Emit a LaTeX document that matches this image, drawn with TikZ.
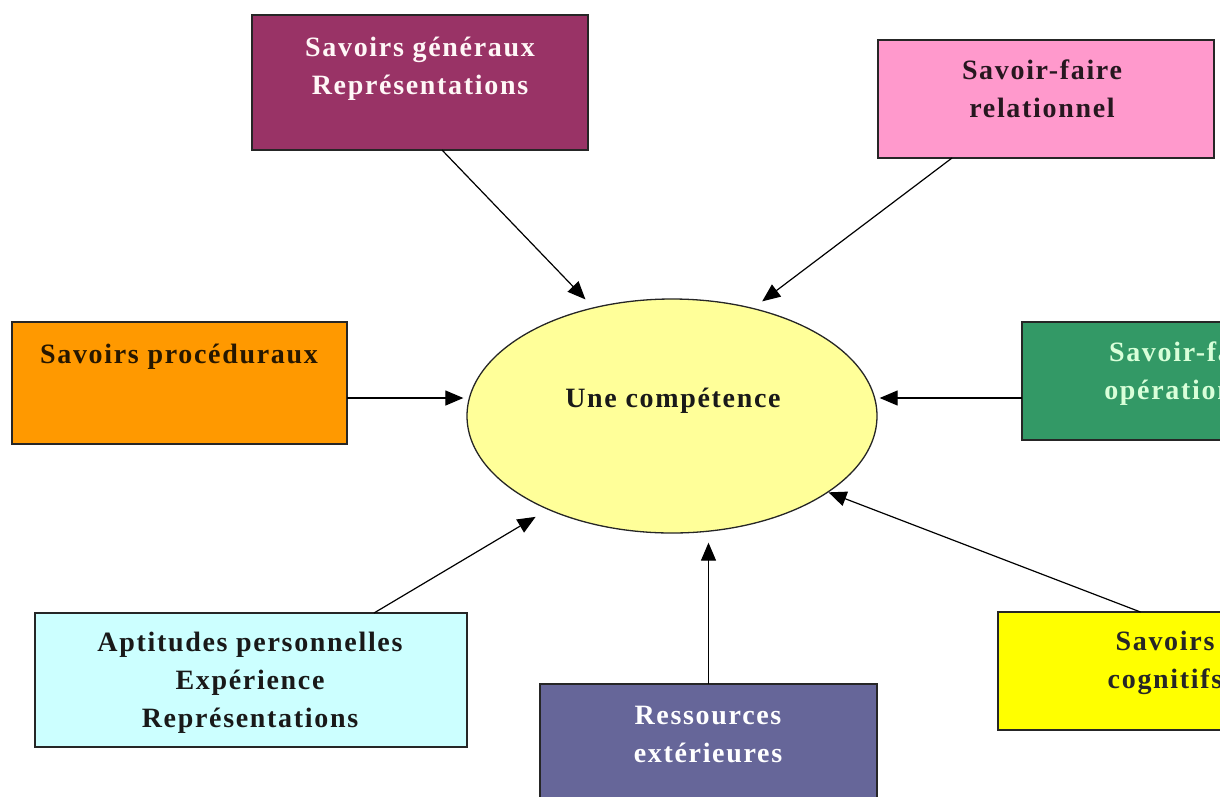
\documentclass[tikz,border=0pt]{standalone}
\usepackage{fontspec}
\setmainfont{Liberation Serif}[LetterSpace=6]
\usetikzlibrary{shapes.geometric,arrows.meta}
\usepackage{xcolor}
\definecolor{genfill}{HTML}{993366}
\definecolor{relfill}{HTML}{FF99CC}
\definecolor{procfill}{HTML}{FF9900}
\definecolor{opfill}{HTML}{339966}
\definecolor{aptfill}{HTML}{CCFFFF}
\definecolor{resfill}{HTML}{666699}
\definecolor{cogfill}{HTML}{FFFF00}
\definecolor{compfill}{HTML}{FFFF99}

\begin{document}
\begin{tikzpicture}
    \tikzset{
        box/.style={rectangle,draw=black!85,line width=1.3pt,inner sep=0pt,outer sep=0pt},
        lbl/.style={anchor=base,align=center,inner sep=0pt,
            font=\fontsize{28}{38}\selectfont\bfseries},
        arr/.style={-{Triangle[length=18pt,width=15pt]},line width=1.2pt},
        x={(1pt,0pt)},
        y={(0pt,-1pt)}
    }
    \useasboundingbox (0,0) rectangle (1220,796);
    \clip (0,0) rectangle (1220,796);
    % centre
    \node[ellipse,draw=black!85,line width=1.3pt,fill=compfill,inner sep=0pt,
        minimum width=410pt,minimum height=234pt] (comp) at (672,416) {};
    \node[lbl,text=black!90] (comp-t) at (673,407) {Une compétence};
    % boxes
    \node[box,fill=genfill,minimum width=336pt,minimum height=135pt] (gen) at (420,82.5) {};
    \node[box,fill=relfill,minimum width=336pt,minimum height=118pt] (rel) at (1046,99) {};
    \node[box,fill=procfill,minimum width=335pt,minimum height=122pt] (proc) at (179.5,383) {};
    \node[box,fill=opfill,minimum width=335pt,minimum height=118pt] (op) at (1189.5,381) {};
    \node[box,fill=aptfill,minimum width=432pt,minimum height=134pt] (apt) at (251,680) {};
    \node[box,fill=resfill,minimum width=337pt,minimum height=146pt] (res) at (708.5,757) {};
    \node[box,fill=cogfill,minimum width=335pt,minimum height=118pt] (cog) at (1165.5,671) {};
    % labels (base = last line)
    \node[lbl,text=white!88!pink] (gen-t) at (420,94) {Savoirs généraux\\Représentations};
    \node[lbl,text=black!85!relfill] (rel-t) at (1042,117) {Savoir-faire\\relationnel};
    \node[lbl,text=black!85!procfill] (proc-t) at (179,363) {Savoirs procéduraux};
    \node[lbl,text=green!15!white] (op-t) at (1189,399) {Savoir-faire\\opérationnel};
    \node[lbl,text=black!90] (apt-t) at (250,727) {Aptitudes personnelles\\Expérience\\Représentations};
    \node[lbl,text=white] (res-t) at (708,762) {Ressources\\extérieures};
    \node[lbl,text=black!85] (cog-t) at (1165,688) {Savoirs\\cognitifs};
    % arrows
    \draw[arr,shorten >=11pt] ([xshift=22pt]gen.south) -- (comp.126);
    \draw[arr,shorten >=11pt] ([xshift=-94pt]rel.south) -- (comp.53);
    \draw[arr,shorten >=3pt] ([yshift=-15pt]proc.east) -- ([yshift=18pt]comp.west);
    \draw[arr,shorten >=2pt] ([yshift=-17pt]op.west) -- ([yshift=18pt]comp.east);
    \draw[arr,shorten >=14pt] ([xshift=123pt]apt.north) -- (comp.217);
    \draw[arr,shorten >=9pt] (res.north) -- (res.north |- comp.south);
    \draw[arr] ([xshift=-25pt]cog.north) -- (comp.334);
\end{tikzpicture}
\end{document}
